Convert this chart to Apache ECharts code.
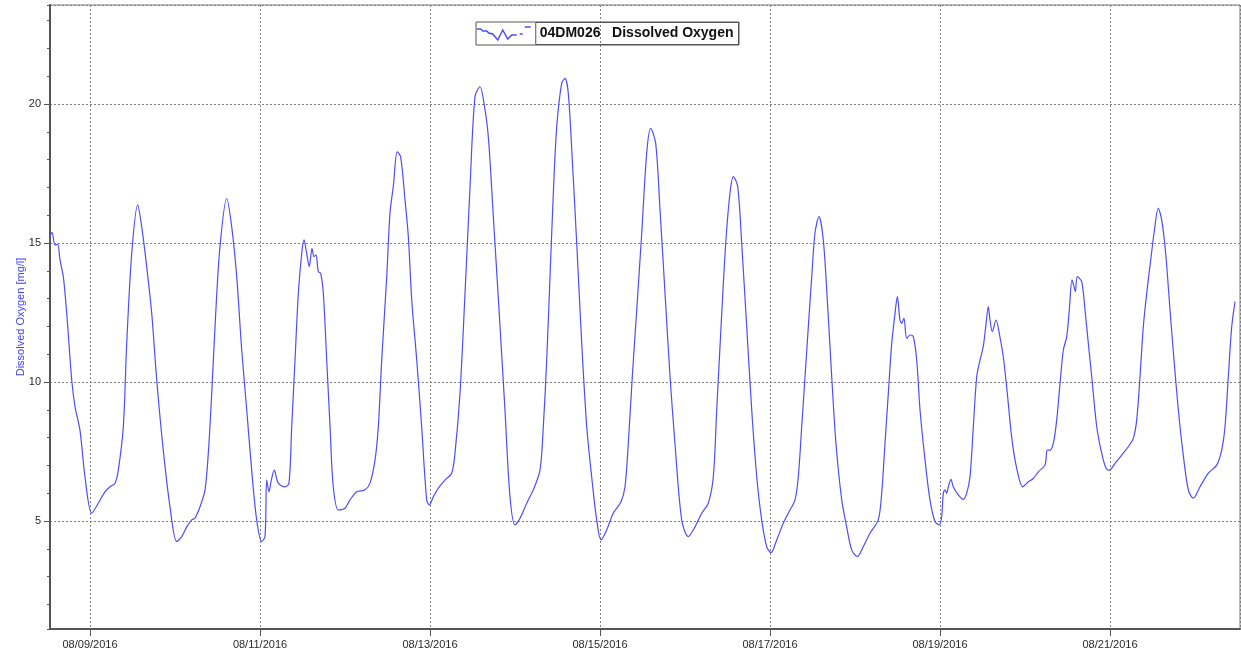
<!DOCTYPE html>
<html>
<head>
<meta charset="utf-8">
<script src="https://cdn.jsdelivr.net/npm/echarts@6/dist/echarts.min.js"></script>
<style>
html,body{margin:0;padding:0;background:#fff;}
#chart{width:1241px;height:655px;}
</style>
</head>
<body>
<div id="chart"></div>
<script>
// Time in days since 2016-08-09 00:00
const seriesName = '04DM026   Dissolved Oxygen';
const yAxisTitle = 'Dissolved Oxygen [mg/l]';
const xTickDays = [0, 2, 4, 6, 8, 10, 12];
const xTickLabels = ['08/09/2016', '08/11/2016', '08/13/2016', '08/15/2016', '08/17/2016', '08/19/2016', '08/21/2016'];
const yTickValues = [5, 10, 15, 20];

const timeDays = [
  -0.471, -0.447, -0.412, -0.380, -0.353, -0.314, -0.274, -0.215, -0.176, -0.118, -0.059, 0.020,
  0.098, 0.176, 0.235, 0.294, 0.333, 0.392, 0.432, 0.491, 0.561, 0.608, 0.667, 0.726, 0.785, 0.862, 0.941,
  1.020, 1.079, 1.138, 1.196, 1.235, 1.294, 1.353, 1.392, 1.432, 1.479, 1.529, 1.608, 1.667, 1.726, 1.785, 1.844, 1.902, 1.961,
  2.020, 2.059, 2.079, 2.106, 2.129, 2.168, 2.215, 2.294, 2.341, 2.373, 2.412, 2.451, 2.491, 2.518, 2.549, 2.580, 2.612, 2.635, 2.659, 2.686, 2.714, 2.745, 2.785, 2.824, 2.862, 2.921,
  3.000, 3.059, 3.138, 3.235, 3.294, 3.353, 3.392, 3.432, 3.491, 3.529, 3.568, 3.615, 3.655, 3.706, 3.745, 3.785, 3.844, 3.902, 3.961, 3.992,
  4.039, 4.098, 4.176, 4.255, 4.294, 4.353, 4.412, 4.471, 4.529, 4.588, 4.635, 4.686, 4.745, 4.824, 4.882, 4.941,
  5.000, 5.059, 5.138, 5.215, 5.294, 5.333, 5.373, 5.412, 5.451, 5.491, 5.549, 5.588, 5.627, 5.674, 5.726, 5.785, 5.844, 5.902, 5.961,
  6.012, 6.079, 6.156, 6.247, 6.294, 6.333, 6.380, 6.432, 6.491, 6.549, 6.596, 6.655, 6.706, 6.765, 6.824, 6.882, 6.961,
  7.039, 7.118, 7.196, 7.274, 7.333, 7.373, 7.424, 7.479, 7.529, 7.568, 7.620, 7.667, 7.726, 7.785, 7.844, 7.902, 7.961,
  8.012, 8.079, 8.156, 8.215, 8.294, 8.333, 8.373, 8.412, 8.451, 8.491, 8.529, 8.576, 8.627, 8.674, 8.726, 8.776, 8.844, 8.902, 8.961,
  9.027, 9.098, 9.176, 9.274, 9.314, 9.353, 9.392, 9.432, 9.471, 9.498, 9.529, 9.549, 9.576, 9.608, 9.647, 9.686, 9.726, 9.765, 9.824, 9.882, 9.941, 9.992,
  10.020, 10.039, 10.059, 10.079, 10.098, 10.129, 10.156, 10.215, 10.274, 10.314, 10.353, 10.392, 10.432, 10.471, 10.509, 10.538, 10.568, 10.588, 10.615, 10.659, 10.706, 10.745, 10.785, 10.844, 10.902, 10.973,
  11.039, 11.098, 11.157, 11.235, 11.262, 11.294, 11.333, 11.373, 11.412, 11.451, 11.491, 11.521, 11.553, 11.576, 11.592, 11.615, 11.667, 11.706, 11.745, 11.785, 11.844, 11.902, 11.953, 11.992,
  12.059, 12.138, 12.215, 12.274, 12.314, 12.353, 12.392, 12.432, 12.479, 12.518, 12.568, 12.608, 12.655, 12.706, 12.753, 12.804, 12.855, 12.921, 12.980,
  13.059, 13.157, 13.255, 13.314, 13.353, 13.392, 13.432, 13.471
];

const oxygenValues = [
  15.25, 15.38, 14.93, 14.95, 14.39, 13.79, 12.48, 10.07, 9.11, 8.27, 6.59, 5.28,
  5.64, 6.05, 6.23, 6.36, 6.83, 8.39, 11.39, 14.63, 16.37, 15.59, 14.15, 12.47, 10.07, 7.55, 5.51,
  4.26, 4.44, 4.79, 5.04, 5.10, 5.51, 6.12, 7.44, 9.59, 12.47, 14.87, 16.60, 15.59, 13.79, 11.15, 8.99, 6.83, 5.04,
  4.26, 4.44, 6.47, 6.05, 6.41, 6.83, 6.36, 6.23, 6.36, 8.39, 10.79, 13.19, 14.63, 15.11, 14.63, 14.15, 14.81, 14.51, 14.57, 13.97, 13.91, 13.19, 10.79, 8.39, 6.23, 5.40,
  5.46, 5.76, 6.05, 6.12, 6.36, 7.19, 8.39, 10.79, 13.79, 16.07, 17.03, 18.28, 18.10, 16.55, 15.23, 12.95, 10.79, 8.39, 5.76, 5.58,
  5.87, 6.18, 6.47, 6.72, 7.44, 9.59, 13.19, 17.03, 20.26, 20.62, 20.03, 18.82, 15.95, 11.99, 8.99, 5.87,
  4.86, 5.10, 5.64, 6.12, 6.83, 8.39, 10.79, 13.79, 16.79, 19.18, 20.74, 20.92, 20.38, 17.99, 14.99, 11.39, 8.39, 6.59, 5.04,
  4.32, 4.68, 5.28, 5.69, 6.23, 7.79, 10.19, 12.59, 15.35, 18.22, 19.12, 18.59, 16.19, 13.19, 10.19, 7.79, 5.04,
  4.44, 4.79, 5.28, 5.64, 6.59, 8.99, 11.99, 14.99, 16.79, 17.39, 17.03, 14.99, 11.99, 8.99, 6.59, 5.04, 4.08,
  3.86, 4.32, 4.92, 5.28, 5.76, 6.59, 8.39, 10.19, 11.99, 13.79, 15.35, 15.95, 15.11, 12.95, 10.19, 7.79, 5.76, 4.79, 3.96,
  3.72, 4.08, 4.56, 5.04, 6.00, 7.79, 9.59, 11.39, 12.47, 13.07, 12.23, 12.11, 12.29, 11.57, 11.69, 11.63, 10.79, 8.99, 7.19, 5.76, 4.98, 4.86,
  5.16, 6.00, 6.12, 6.00, 6.23, 6.50, 6.23, 5.94, 5.78, 6.00, 6.59, 8.39, 10.19, 10.79, 11.27, 11.99, 12.71, 12.23, 11.81, 12.23, 11.60, 10.90, 9.80, 8.00, 6.90, 6.23,
  6.41, 6.53, 6.77, 7.01, 7.55, 7.55, 7.79, 8.63, 9.95, 11.15, 11.63, 12.59, 13.67, 13.43, 13.25, 13.79, 13.61, 12.59, 11.39, 10.19, 8.39, 7.44, 6.90, 6.83,
  7.07, 7.37, 7.67, 7.97, 8.63, 10.19, 11.99, 13.19, 14.39, 15.35, 16.25, 15.83, 14.63, 12.59, 10.79, 8.99, 7.55, 6.12, 5.82,
  6.23, 6.72, 7.01, 7.55, 8.39, 10.19, 11.99, 12.89
];

const seriesData = timeDays.map((t, i) => [t, oxygenValues[i]]);

const FONT = "'Liberation Sans', Arial, sans-serif";
const chart = echarts.init(document.getElementById('chart'), null, {renderer: 'canvas'});

chart.setOption({
  animation: false,
  backgroundColor: '#ffffff',
  grid: {
    left: 50, right: 1, top: 5, bottom: 26,
    show: true, borderColor: '#7a7a7a', borderWidth: 1, backgroundColor: 'transparent'
  },
  legend: {
    show: true,
    left: 476, top: 22,
    padding: 0,
    borderColor: '#555555', borderWidth: 1,
    selectedMode: false,
    itemWidth: 54, itemHeight: 16,
    icon: 'path://M0,4 L4,4 L6,6 L10,6 L12,8 L16,9 L21,15 L26,5 L31,14 L35,10 L40,10 M43,9 L46,9 M48,2 L54,2',
    itemStyle: {color: 'rgba(0,0,0,0)', borderColor: '#4d4dff', borderWidth: 1.5},
    textStyle: {
      fontFamily: FONT, fontSize: 14, fontWeight: 'bold', color: '#111',
      lineHeight: 14, padding: [4, 5, 4, 4],
      borderColor: '#555555', borderWidth: 1
    },
    data: [seriesName]
  },
  xAxis: {
    type: 'value',
    min: -0.4706, max: 13.5294,
    splitNumber: 7,
    axisLine: {show: true, onZero: false, lineStyle: {color: '#555', width: 2}},
    axisTick: {show: true, length: 7, lineStyle: {color: '#555', width: 1}},
    axisLabel: {
      fontFamily: FONT, fontSize: 11, color: '#2a2a2a', margin: 10,
      showMinLabel: false, showMaxLabel: false,
      formatter: function (v) {
        const i = xTickDays.indexOf(Math.round(v * 1000) / 1000);
        return i >= 0 ? xTickLabels[i] : '';
      }
    },
    splitLine: {show: true, lineStyle: {color: '#808080', type: [2, 2], width: 1}}
  },
  yAxis: [
    {
      type: 'value',
      min: 1.115, max: 23.56,
      splitNumber: 4,
      name: yAxisTitle,
      nameLocation: 'middle',
      nameGap: 24,
      nameMoveOverlap: false,
      nameTextStyle: {fontFamily: FONT, fontSize: 11, color: '#3c3cff'},
      axisLine: {show: true, onZero: false, lineStyle: {color: '#555', width: 2}},
      axisTick: {show: true, length: 6, lineStyle: {color: '#555', width: 1}},
      axisLabel: {
        fontFamily: FONT, fontSize: 11, color: '#2a2a2a', margin: 9,
        showMinLabel: false, showMaxLabel: false,
        formatter: function (v) {
          const r = Math.round(v * 1000) / 1000;
          return yTickValues.indexOf(r) >= 0 ? String(r) : '';
        }
      },
      splitLine: {show: true, lineStyle: {color: '#808080', type: [2, 2], width: 1}}
    },
    {
      type: 'value',
      position: 'left',
      min: 1.115, max: 23.56,
      splitNumber: 22,
      axisLine: {show: false, onZero: false},
      axisTick: {show: true, length: 3, lineStyle: {color: '#555', width: 1}},
      axisLabel: {show: false},
      splitLine: {show: false}
    }
  ],
  series: [
    {
      name: seriesName,
      type: 'line',
      yAxisIndex: 0,
      data: seriesData,
      showSymbol: false,
      symbol: 'none',
      smooth: 0.3,
      lineStyle: {color: '#4d4dff', width: 1.2},
      itemStyle: {color: '#4d4dff'},
      emphasis: {disabled: true}
    }
  ]
});
</script>
</body>
</html>
